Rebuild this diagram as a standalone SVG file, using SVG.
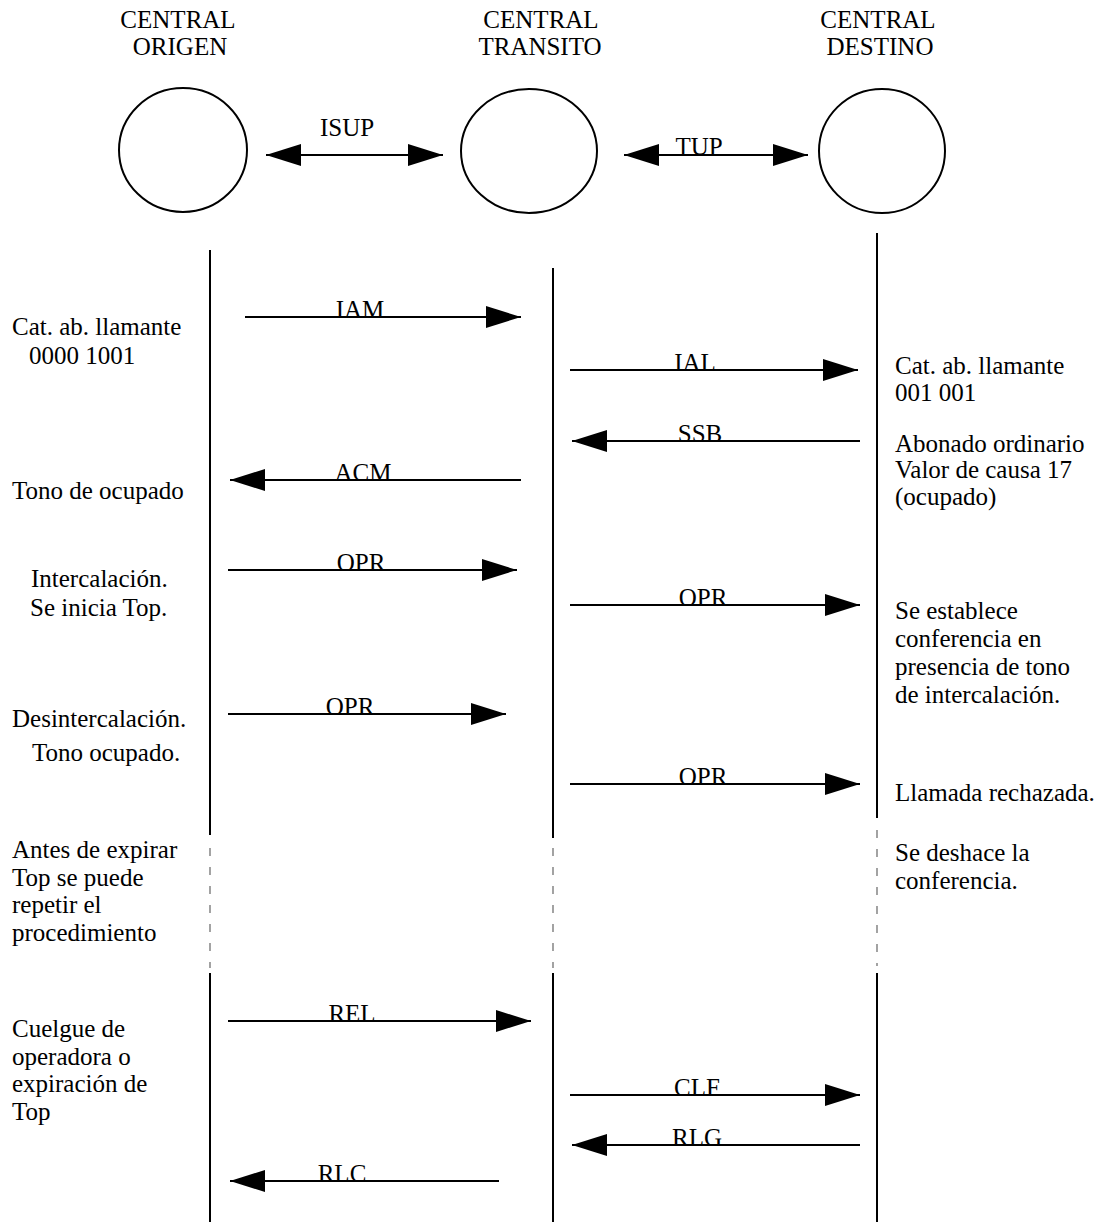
<svg xmlns="http://www.w3.org/2000/svg" width="1097" height="1222" viewBox="0 0 1097 1222">
<style>
text{font-family:"Liberation Serif","Times New Roman",serif;font-size:25px;fill:#000}
.c{text-anchor:middle}
.node{fill:#fff;stroke:#000;stroke-width:2}
.life{stroke:#000;stroke-width:2}
.dash{stroke:#666;stroke-width:1.2;stroke-dasharray:8 11}
.msg{stroke:#000;stroke-width:2;fill:none}
</style>
<defs>
<marker id="ah" markerUnits="userSpaceOnUse" markerWidth="36" markerHeight="24" refX="35" refY="11" orient="auto-start-reverse" viewBox="0 0 36 22">
<polygon points="0,0 35,11 0,22" fill="#000"/>
</marker>
</defs>
<rect width="1097" height="1222" fill="#fff"/>
<g id="origen">
<text class="c" x="178" y="28">CENTRAL</text>
<text class="c" x="180" y="55">ORIGEN</text>
<ellipse class="node" cx="183" cy="150" rx="64" ry="62"/>
</g>
<g id="transito">
<text class="c" x="541" y="28">CENTRAL</text>
<text class="c" x="540" y="55">TRANSITO</text>
<ellipse class="node" cx="529" cy="151" rx="68" ry="62"/>
</g>
<g id="destino">
<text class="c" x="878" y="28">CENTRAL</text>
<text class="c" x="880" y="55">DESTINO</text>
<ellipse class="node" cx="882" cy="151" rx="63" ry="62"/>
</g>
<g id="lifelines">
<line class="life" x1="210" y1="250" x2="210" y2="835"/>
<line class="dash" x1="210" y1="848" x2="210" y2="968"/>
<line class="life" x1="210" y1="973" x2="210" y2="1222"/>
<line class="life" x1="553" y1="268" x2="553" y2="838"/>
<line class="dash" x1="553" y1="848" x2="553" y2="968"/>
<line class="life" x1="553" y1="973" x2="553" y2="1222"/>
<line class="life" x1="877" y1="233" x2="877" y2="818"/>
<line class="dash" x1="877" y1="830" x2="877" y2="966"/>
<line class="life" x1="877" y1="973" x2="877" y2="1222"/>
</g>
<g id="connectors">
<line class="msg" x1="266" y1="155" x2="443" y2="155" marker-start="url(#ah)" marker-end="url(#ah)"/>
<line class="msg" x1="624" y1="155" x2="808" y2="155" marker-start="url(#ah)" marker-end="url(#ah)"/>
<line class="msg" x1="245" y1="317" x2="521" y2="317" marker-end="url(#ah)"/>
<line class="msg" x1="570" y1="370" x2="858" y2="370" marker-end="url(#ah)"/>
<line class="msg" x1="860" y1="441" x2="572" y2="441" marker-end="url(#ah)"/>
<line class="msg" x1="521" y1="480" x2="230" y2="480" marker-end="url(#ah)"/>
<line class="msg" x1="228" y1="570" x2="517" y2="570" marker-end="url(#ah)"/>
<line class="msg" x1="570" y1="605" x2="860" y2="605" marker-end="url(#ah)"/>
<line class="msg" x1="228" y1="714" x2="506" y2="714" marker-end="url(#ah)"/>
<line class="msg" x1="570" y1="784" x2="860" y2="784" marker-end="url(#ah)"/>
<line class="msg" x1="228" y1="1021" x2="531" y2="1021" marker-end="url(#ah)"/>
<line class="msg" x1="570" y1="1095" x2="860" y2="1095" marker-end="url(#ah)"/>
<line class="msg" x1="860" y1="1145" x2="572" y2="1145" marker-end="url(#ah)"/>
<line class="msg" x1="499" y1="1181" x2="230" y2="1181" marker-end="url(#ah)"/>
</g>
<g id="labels">
<text class="c" x="347" y="136">ISUP</text>
<text class="c" x="699" y="155">TUP</text>
<text class="c" x="360" y="318">IAM</text>
<text class="c" x="695" y="371">IAL</text>
<text class="c" x="700" y="442">SSB</text>
<text class="c" x="363" y="481">ACM</text>
<text class="c" x="361" y="571">OPR</text>
<text class="c" x="703" y="606">OPR</text>
<text class="c" x="350" y="715">OPR</text>
<text class="c" x="703" y="785">OPR</text>
<text class="c" x="352" y="1022">REL</text>
<text class="c" x="697" y="1096">CLF</text>
<text class="c" x="697" y="1146">RLG</text>
<text class="c" x="342" y="1182">RLC</text>
</g>
<g id="notes-left">
<text x="12" y="335">Cat. ab. llamante</text>
<text x="29" y="364">0000 1001</text>
<text x="12" y="499">Tono de ocupado</text>
<text x="31" y="587">Intercalación.</text>
<text x="30" y="616">Se inicia Top.</text>
<text x="12" y="727">Desintercalación.</text>
<text x="32" y="761">Tono ocupado.</text>
<text x="12" y="858">Antes de expirar</text>
<text x="12" y="886">Top se puede</text>
<text x="12" y="913">repetir el</text>
<text x="12" y="941">procedimiento</text>
<text x="12" y="1037">Cuelgue de</text>
<text x="12" y="1065">operadora o</text>
<text x="12" y="1092">expiración de</text>
<text x="12" y="1120">Top</text>
</g>
<g id="notes-right">
<text x="895" y="374">Cat. ab. llamante</text>
<text x="895" y="401">001 001</text>
<text x="895" y="452">Abonado ordinario</text>
<text x="895" y="478">Valor de causa 17</text>
<text x="895" y="505">(ocupado)</text>
<text x="895" y="619">Se establece</text>
<text x="895" y="647">conferencia en</text>
<text x="895" y="675">presencia de tono</text>
<text x="895" y="703">de intercalación.</text>
<text x="895" y="801">Llamada rechazada.</text>
<text x="895" y="861">Se deshace la</text>
<text x="895" y="889">conferencia.</text>
</g>
</svg>
